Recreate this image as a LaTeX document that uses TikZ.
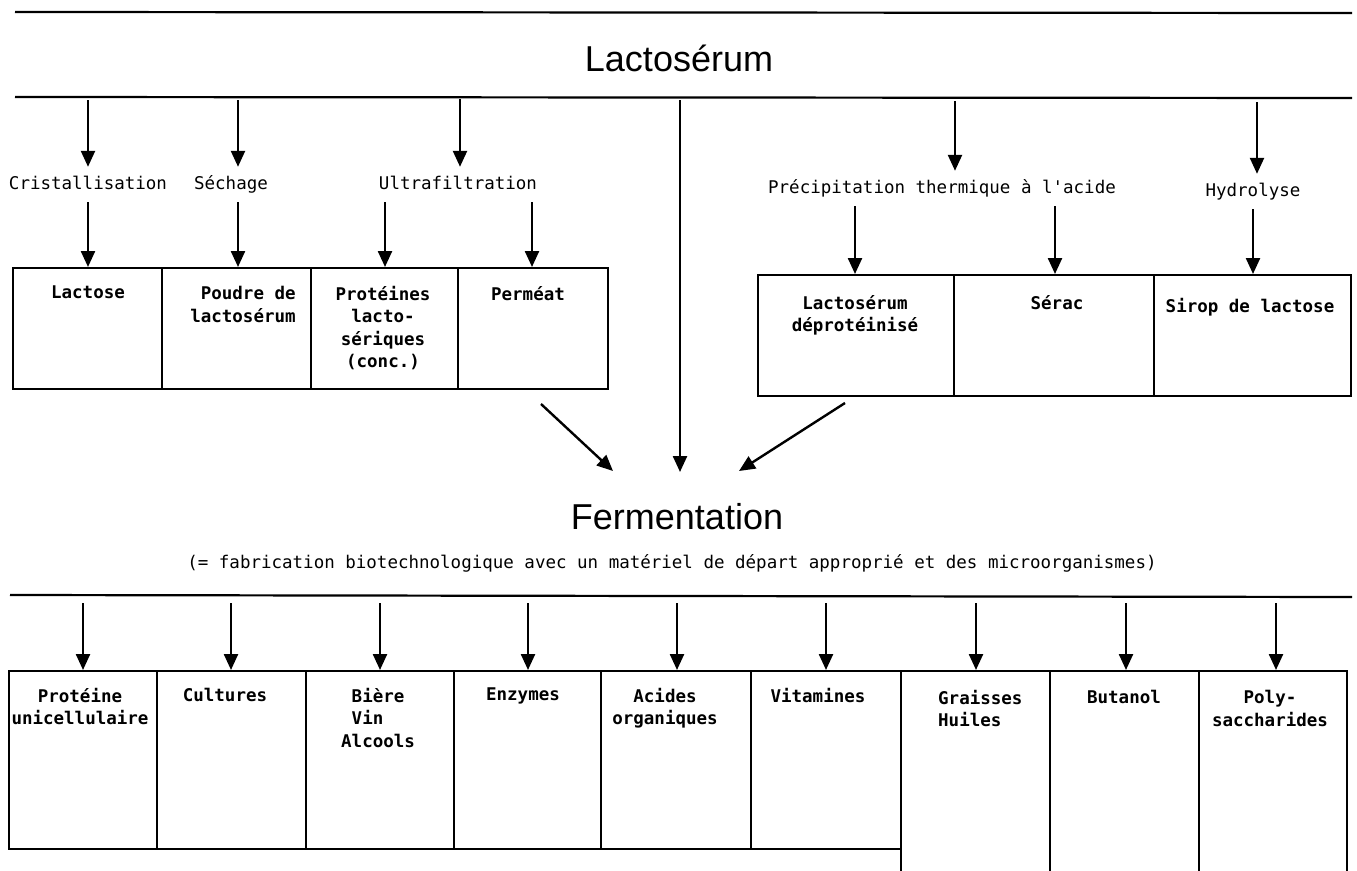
\documentclass[tikz,border=0pt]{standalone}
\usepackage{fontspec}
\setmainfont{Liberation Sans}
\newfontfamily\monof{DejaVu Sans Mono}
\usetikzlibrary{arrows.meta}
\begin{document}
\begin{tikzpicture}[x=1pt,y=-1pt,
  hline/.style={line width=2.2pt},
  arr/.style={line width=2.4pt,-{Triangle[width=14pt,length=16pt]}},
  box/.style={draw,line width=2.2pt,inner sep=0pt,anchor=north west},
  title/.style={font=\fontsize{36}{42}\selectfont,inner sep=0pt},
  lab/.style={font=\monof\fontsize{17.5}{21}\selectfont,inner xsep=0pt,inner ysep=10pt,
    text height=12pt,text depth=3pt,anchor=base},
  sub/.style={font=\monof\fontsize{17.5}{21}\selectfont,inner sep=0pt},
  btext/.style={font=\monof\bfseries\fontsize{17.5}{22.5}\selectfont,align=center,inner sep=0pt,anchor=north}]
\useasboundingbox[fill=white] (0,0) rectangle (1357,870);

% header lines and titles
\draw[hline] (15,12) -- (1352,13);
\node[title] (lacto) at (679,58) {Lactosérum};
\draw[hline] (15,97) -- (1352,98);

% top arrow sources
\coordinate (t1) at (88,100);
\coordinate (t2) at (238,100);
\coordinate (t3) at (460,99);
\coordinate (tc) at (680,100);
\coordinate (t4) at (955,101);
\coordinate (t5) at (1257,102);

% process labels
\node[lab] (cris) at (88,189) {Cristallisation};
\node[lab] (sech) at (231,189) {Séchage};
\node[lab] (ultra) at (458,189) {Ultrafiltration};
\node[lab] (prec) at (942,193) {Précipitation thermique à l'acide};
\node[lab] (hyd) at (1253,196) {Hydrolyse};

% first row of boxes (left)
\node[box,minimum width=149pt,minimum height=121pt] (b1) at (12,267) {};
\node[box,minimum width=149pt,minimum height=121pt] (b2) at (161,267) {};
\node[box,minimum width=147pt,minimum height=121pt] (b3) at (310,267) {};
\node[box,minimum width=150pt,minimum height=121pt] (b4) at (457,267) {};
% first row of boxes (right)
\node[box,minimum width=196pt,minimum height=121pt] (r1) at (757,274) {};
\node[box,minimum width=200pt,minimum height=121pt] (r2) at (953,274) {};
\node[box,minimum width=197pt,minimum height=121pt] (r3) at (1153,274) {};

\node[btext] (tb1) at (88,286) {Lactose};
\node[btext,align=right] (tb2) at (243,286) {Poudre de\\lactosérum};
\node[btext] (tb3) at (383,286) {Protéines\\lacto-\\sériques\\(conc.)};
\node[btext] (tb4) at (528,286) {Perméat};
\node[btext] (tr1) at (855,295) {Lactosérum\\déprotéinisé};
\node[btext] (tr2) at (1057,295) {Sérac};
\node[btext] (tr3) at (1250,298) {Sirop de lactose};

% arrows top -> labels
\draw[arr] (t1) -- (t1 |- cris.north);
\draw[arr] (t2) -- (t2 |- sech.north);
\draw[arr] (t3) -- (t3 |- ultra.north);
\draw[arr] (t4) -- (t4 |- prec.north);
\draw[arr] (t5) -- (t5 |- hyd.north);
% arrows labels -> boxes
\draw[arr] (cris.south) -- (b1.north -| cris.south);
\draw[arr] (sech.south -| t2) -- (b2.north -| t2);
\draw[arr] (ultra.south -| 385,0) -- (b3.north -| 385,0);
\draw[arr] (ultra.south -| 532,0) -- (b4.north -| 532,0);
\draw[arr] (prec.south -| 855,0) -- (r1.north -| 855,0);
\draw[arr] (prec.south -| 1055,0) -- (r2.north -| 1055,0);
\draw[arr] (hyd.south) -- (r3.north -| hyd.south);

% arrows to fermentation
\coordinate (d1s) at (541,404);
\coordinate (d1e) at (613,471);
\coordinate (d2s) at (845,403);
\coordinate (d2e) at (739,471);
\coordinate (tce) at (680,472);
\draw[arr] (d1s) -- (d1e);
\draw[arr] (tc) -- (tce);
\draw[arr] (d2s) -- (d2e);

\node[title] (ferm) at (677,517) {Fermentation};
\node[sub] (subt) at (672,563) {(= fabrication biotechnologique avec un matériel de départ approprié et des microorganismes)};
\draw[hline] (10,595) -- (1352,597);

% bottom boxes
\node[box,minimum width=148pt,minimum height=178pt] (p1) at (8,670) {};
\node[box,minimum width=149pt,minimum height=178pt] (p2) at (156,670) {};
\node[box,minimum width=148pt,minimum height=178pt] (p3) at (305,670) {};
\node[box,minimum width=147pt,minimum height=178pt] (p4) at (453,670) {};
\node[box,minimum width=150pt,minimum height=178pt] (p5) at (600,670) {};
\node[box,minimum width=150pt,minimum height=178pt] (p6) at (750,670) {};
\node[box,minimum width=149pt,minimum height=215pt] (p7) at (900,670) {};
\node[box,minimum width=149pt,minimum height=215pt] (p8) at (1049,670) {};
\node[box,minimum width=148pt,minimum height=215pt] (p9) at (1198,670) {};

\node[btext] (q1) at (80,688) {Protéine\\unicellulaire};
\node[btext] (q2) at (225,688) {Cultures};
\node[btext,anchor=north west,align=left] (q3) at (341,688) {\phantom{A}Bière\\\phantom{A}Vin\\Alcools};
\node[btext] (q4) at (523,688) {Enzymes};
\node[btext] (q5) at (665,688) {Acides\\organiques};
\node[btext] (q6) at (818,688) {Vitamines};
\node[btext,anchor=north west,align=left] (q7) at (938,690) {Graisses\\Huiles};
\node[btext] (q8) at (1124,690) {Butanol};
\node[btext] (q9) at (1270,690) {Poly-\\saccharides};

% bottom arrows
\foreach \x/\p [count=\i] in {83/p1,231/p2,380/p3,528/p4,677/p5,826/p6,976/p7,1126/p8,1276/p9}{
  \coordinate (f\i) at (\x,603);
  \draw[arr] (f\i) -- (f\i |- \p.north);
}
\end{tikzpicture}
\end{document}
